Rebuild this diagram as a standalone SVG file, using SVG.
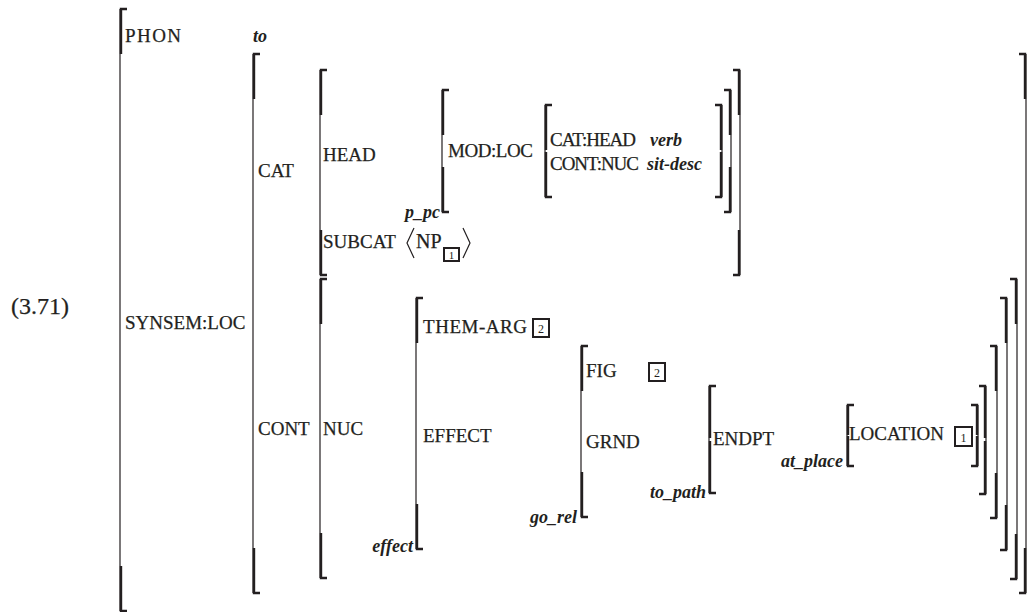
<svg xmlns="http://www.w3.org/2000/svg" width="1027" height="612" viewBox="0 0 1027 612">
<style>
.t{font-family:"Liberation Serif","Times New Roman",serif;font-size:19px;fill:#231f20;stroke:#231f20;stroke-width:0.25}
.i{font-family:"Liberation Serif","Times New Roman",serif;font-size:18px;font-style:italic;font-weight:bold;fill:#231f20}
.n{font-family:"Liberation Serif","Times New Roman",serif;font-size:12px;fill:#231f20;text-anchor:middle}
.th{fill:none;stroke:#231f20;stroke-width:1.2}
.tk{fill:none;stroke:#231f20;stroke-width:2.4}
.box{fill:none;stroke:#231f20;stroke-width:2}
</style>
<rect width="1027" height="612" fill="#fff"/>
<text class="t" x="11" y="314" style="font-size:24px">(3.71)</text>
<g id="brackets-left">
<path class="th" d="M120 9V611M253 54V593M320 70V275M442 90V212M545 105V197M320 279V578M416 298V549M581 346V517M709 386V493M847 405V466"/>
<path class="tk" d="M127 9H121V54M121 566V611H127M260 54H254V99M254 548V593H260M327 70H321V115M321 230V275H327M449 90H443V135M443 167V212H449M552 105H546V150M546 152V197H552M327 279H321V324M321 533V578H327M423 298H417V343M417 504V549H423M588 346H582V391M582 472V517H588M716 386H710V438M710 441V493H716M854 405H848V435M848 436V466H854"/>
</g>
<g id="brackets-right">
<path class="th" d="M1026 54V593M740 70V275M731 90V212M722 105V197M1017 279V579M1007 298V550M997 346V518M986 386V494M978 405V466"/>
<path class="tk" d="M1019 54H1025V99M1025 548V593H1019M733 70H739V115M739 230V275H733M724 90H730V135M730 167V212H724M715 105H721V150M721 152V197H715M1010 279H1016V324M1016 534V579H1010M1000 298H1006V343M1006 505V550H1000M990 346H996V391M996 473V518H990M979 386H985V438M985 441V494H979M971 405H977V435M977 436V466H971"/>
</g>
<g id="phon">
<text class="t" x="125" y="42" textLength="56">PHON</text>
<text class="i" x="253" y="42">to</text>
</g>
<g id="synsem">
<text class="t" x="125" y="329">SYNSEM:LOC</text>
</g>
<g id="cat">
<text class="t" x="258" y="177">CAT</text>
<text class="t" x="323" y="161">HEAD</text>
<text class="i" x="440" y="218" text-anchor="end">p_pc</text>
<text class="t" x="448" y="157" textLength="85">MOD:LOC</text>
<text class="t" x="550" y="146" textLength="86">CAT:HEAD</text>
<text class="i" x="650" y="146">verb</text>
<text class="t" x="550" y="170" textLength="89">CONT:NUC</text>
<text class="i" x="647" y="170">sit-desc</text>
<text class="t" x="323" y="248">SUBCAT</text>
<path class="th" d="M414 228L407 243L414 258M463 228L470 243L463 258"/>
<text class="t" x="416" y="248" style="font-size:20px">NP</text>
<rect class="box" x="444" y="248" width="15" height="13"/>
<text class="n" x="451.5" y="259" style="font-size:11px">1</text>
</g>
<g id="cont">
<text class="t" x="258" y="435">CONT</text>
<text class="t" x="323" y="435">NUC</text>
<text class="t" x="423" y="333" textLength="104">THEM-ARG</text>
<rect class="box" x="533" y="319" width="16" height="18"/>
<text class="n" x="541" y="333">2</text>
<text class="t" x="423" y="442">EFFECT</text>
<text class="i" x="413" y="552" text-anchor="end">effect</text>
</g>
<g id="effect">
<text class="t" x="586" y="377">FIG</text>
<rect class="box" x="649" y="363" width="16" height="18"/>
<text class="n" x="657" y="377">2</text>
<text class="t" x="586" y="448">GRND</text>
<text class="i" x="577" y="523" text-anchor="end">go_rel</text>
</g>
<g id="grnd">
<text class="t" x="713" y="445">ENDPT</text>
<text class="i" x="706" y="498" text-anchor="end">to_path</text>
<text class="i" x="843" y="467" text-anchor="end">at_place</text>
<text class="t" x="849" y="440">LOCATION</text>
<rect class="box" x="955" y="427" width="17" height="19"/>
<text class="n" x="963.5" y="442">1</text>
</g>
</svg>
